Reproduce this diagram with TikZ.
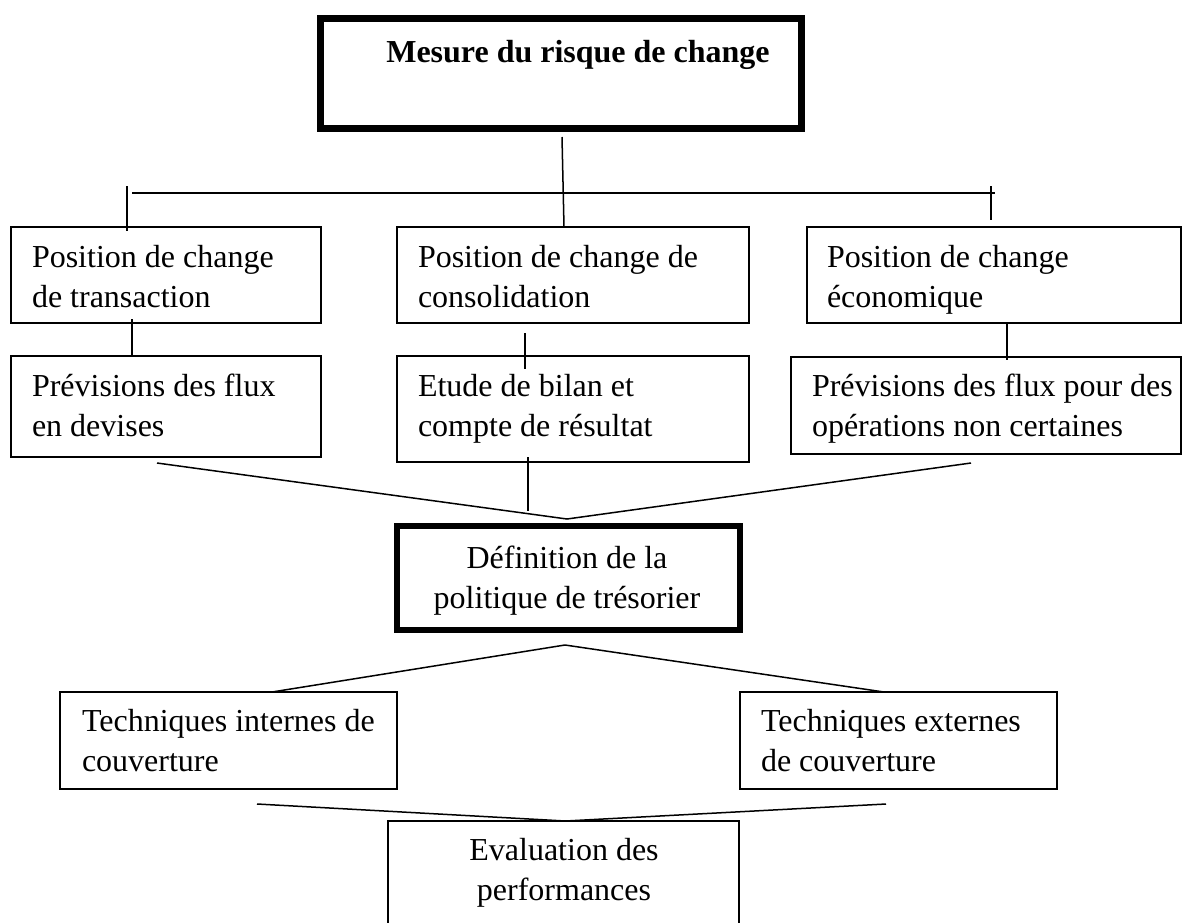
\documentclass[tikz,border=0pt]{standalone}
\usepackage{fontspec}
\setmainfont{Liberation Serif}
\begin{document}
\begin{tikzpicture}[x=1pt,y=-1pt,
  box/.style={draw, line width=1.5pt, inner sep=0pt, outer sep=0pt, anchor=north west},
  heavybox/.style={box, line width=6.5pt},
  link/.style={line width=1.5pt},
  txt/.style={inner sep=0pt, outer sep=0pt, anchor=base west, font=\fontsize{32}{40}\selectfont},
  ctxt/.style={txt, anchor=base}]
  % page frame
  \fill[white] (0,0) rectangle (1184,922);
  \useasboundingbox (0,0) rectangle (1184,922);
  \clip (0,0) rectangle (1184,922);

  % boxes
  \node[heavybox, minimum width=481pt, minimum height=110pt] (top) at (320.5,18.5) {};
  \node[box, minimum width=310pt, minimum height=96pt]  (b1) at (11,227) {};
  \node[box, minimum width=352pt, minimum height=96pt]  (b2) at (397,227) {};
  \node[box, minimum width=374pt, minimum height=96pt]  (b3) at (807,227) {};
  \node[box, minimum width=310pt, minimum height=101pt] (c1) at (11,356) {};
  \node[box, minimum width=352pt, minimum height=106pt] (c2) at (397,356) {};
  \node[box, minimum width=390pt, minimum height=97pt]  (c3) at (791,357) {};
  \node[heavybox, line width=6pt, minimum width=343pt, minimum height=104pt] (def) at (397,526) {};
  \node[box, minimum width=337pt, minimum height=97pt]  (t1) at (60,692) {};
  \node[box, minimum width=317pt, minimum height=97pt]  (t2) at (740,692) {};
  \node[box, minimum width=351pt, minimum height=130pt] (ev) at (388,821) {};

  % texts
  \node[ctxt] (title) at (578,62) {\bfseries Mesure du risque de change};
  \node[txt] (b1t) at (32,267) {\begin{tabular}[t]{@{}l@{}}Position de change\\de transaction\end{tabular}};
  \node[txt] (b2t) at (418,267) {\begin{tabular}[t]{@{}l@{}}Position de change de\\consolidation\end{tabular}};
  \node[txt] (b3t) at (827,267) {\begin{tabular}[t]{@{}l@{}}Position de change\\économique\end{tabular}};
  \node[txt] (c1t) at (32,396) {\begin{tabular}[t]{@{}l@{}}Prévisions des flux\\en devises\end{tabular}};
  \node[txt] (c2t) at (418,396) {\begin{tabular}[t]{@{}l@{}}Etude de bilan et\\compte de résultat\end{tabular}};
  \node[txt] (c3t) at (812,396) {\begin{tabular}[t]{@{}l@{}}Prévisions des flux pour des\\opérations non certaines\end{tabular}};
  \node[ctxt] (deft) at (567,568) {\begin{tabular}[t]{@{}c@{}}Définition de la\\politique de trésorier\end{tabular}};
  \node[txt] (t1t) at (82,731) {\begin{tabular}[t]{@{}l@{}}Techniques internes de\\couverture\end{tabular}};
  \node[txt] (t2t) at (761,731) {\begin{tabular}[t]{@{}l@{}}Techniques externes\\de couverture\end{tabular}};
  \node[ctxt] (evt) at (564,860) {\begin{tabular}[t]{@{}c@{}}Evaluation des\\performances\end{tabular}};

  % junction points
  \coordinate (barL) at (132,193);
  \coordinate (barR) at (995,193);
  \coordinate (tickL) at (127,186);
  \coordinate (tickR) at (991,186);
  \coordinate (merge) at (567,519);
  \coordinate (split) at (565,645);

  % connectors
  \draw[link] ([xshift=1pt,yshift=-8.5pt]top.south) -- ([xshift=-9pt]b2.north);
  \draw[link] (barL) -- (barR);
  \draw[link] (tickL) -- ([xshift=-39pt,yshift=-4pt]b1.north);
  \draw[link] (tickR) -- ([xshift=-3pt,yshift=7pt]b3.north);
  \draw[link] ([xshift=-34pt,yshift=4pt]b1.south) -- ([xshift=-34pt,yshift=1pt]c1.north);
  \draw[link] ([xshift=-48pt,yshift=-10pt]b2.south) -- ([xshift=-48pt,yshift=-13pt]c2.north);
  \draw[link] ([xshift=13pt]b3.south) -- ([xshift=21pt,yshift=-3pt]c3.north);
  \draw[link] ([xshift=-9pt,yshift=-6pt]c1.south) -- (merge) -- ([xshift=-15pt,yshift=-9pt]c3.south);
  \draw[link] ([xshift=-45pt,yshift=5pt]c2.south) -- ([xshift=-40.5pt,yshift=15pt]def.north);
  \draw[link] ([xshift=43.5pt]t1.north) -- (split) -- ([xshift=-14.5pt]t2.north);
  \draw[link] ([xshift=28.5pt,yshift=-15pt]t1.south) -- ([xshift=2pt]ev.north) -- ([xshift=-12.5pt,yshift=-15pt]t2.south);
\end{tikzpicture}
\end{document}
